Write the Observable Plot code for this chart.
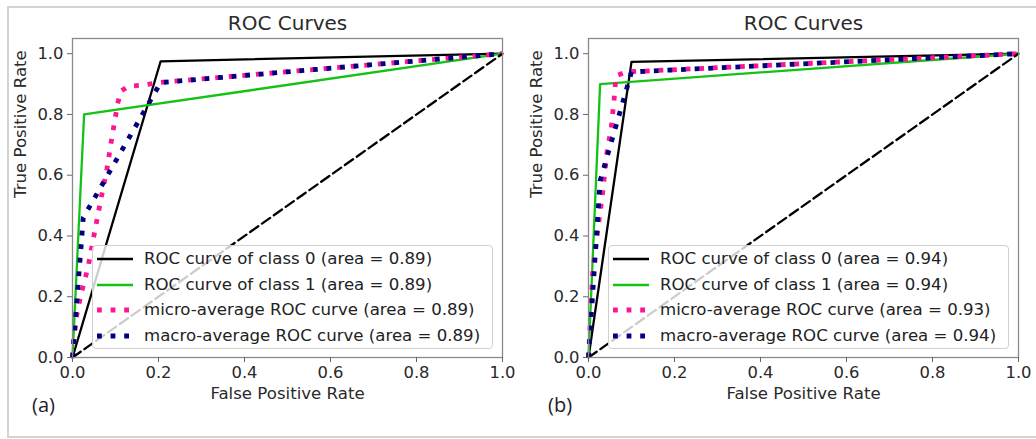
<!DOCTYPE html>
<html>
<head>
<meta charset="utf-8">
<script src="https://cdn.jsdelivr.net/npm/d3@7"></script>
<script src="https://cdn.jsdelivr.net/npm/@observablehq/plot@0.6"></script>
<style>
  html, body { margin: 0; padding: 0; background: #fff; }
  #root { position: relative; width: 1036px; height: 439px; overflow: hidden; font-family: "DejaVu Sans", sans-serif; }
  #border { position: absolute; left: 7px; top: 6px; width: 1060px; height: 432px; border: 2px solid #d4d4d4; border-right: none; box-sizing: border-box; }
  .panel { position: absolute; top: 0; }
  .legend { position: absolute; border: 1px solid #d0d0d0; border-radius: 4px; background: rgba(255,255,255,0.8); box-sizing: border-box; }
  .row { position: absolute; left: 0; height: 22px; }
  .row svg { position: absolute; left: 0; top: 0; }
  .row span { position: absolute; left: 51px; top: 0px; font-size: 16.6px; line-height: 22px; color: #222; white-space: nowrap; font-family: "DejaVu Sans", sans-serif; }
  .tag { position: absolute; font-family: "Open Sans", "Liberation Sans", sans-serif; font-size: 20px; color: #1e1e2a; }
</style>
</head>
<body>
<div id="root">
  <div id="border"></div>
</div>
<script>
// ---- data ----
const axisTicks = [0, 0.2, 0.4, 0.6, 0.8, 1.0];
const titleText = "ROC Curves";
const xLabel = "False Positive Rate";
const yLabel = "True Positive Rate";
const seriesNames = ["ROC curve of class 0", "ROC curve of class 1", "micro-average ROC curve", "macro-average ROC curve"];
const panelTags = ["(a)", "(b)"];

// panel (a)
const fprA0 = [0, 0.205, 1];
const tprA0 = [0, 0.975, 1];
const fprA1 = [0, 0.027, 1];
const tprA1 = [0, 0.8, 1];
const fprAMicro = [0, 0.008, 0.02, 0.036, 0.047, 0.064, 0.08, 0.09, 0.105, 0.113, 0.13, 0.16, 0.2, 1];
const tprAMicro = [0, 0.127, 0.21, 0.296, 0.38, 0.506, 0.62, 0.71, 0.836, 0.877, 0.893, 0.896, 0.905, 1];
const fprAMacro = [0, 0.025, 0.205, 1];
const tprAMacro = [0, 0.46, 0.905, 1];
const areasA = [0.89, 0.89, 0.89, 0.89];

// panel (b)
const fprB0 = [0, 0.1, 1];
const tprB0 = [0, 0.973, 1];
const fprB1 = [0, 0.027, 1];
const tprB1 = [0, 0.9, 1];
const fprBMicro = [0, 0.01, 0.022, 0.033, 0.043, 0.053, 0.059, 0.064, 0.088, 1];
const tprBMicro = [0, 0.285, 0.423, 0.544, 0.676, 0.758, 0.841, 0.927, 0.94, 1];
const fprBMacro = [0, 0.027, 0.1, 1];
const tprBMacro = [0, 0.581, 0.94, 1];
const areasB = [0.94, 0.94, 0.93, 0.94];

const diagX = [0, 1];
const diagY = [0, 1];

// ---- styles ----
const styles = [
  {stroke: "#000000", strokeWidth: 2.3},
  {stroke: "#14c214", strokeWidth: 2.3},
  {stroke: "#ff1493", strokeWidth: 4.8, strokeDasharray: "4.8,8.8"},
  {stroke: "#000080", strokeWidth: 4.8, strokeDasharray: "4.8,8.8"}
];

const pts = (xs, ys) => xs.map((x, i) => ({x, y: ys[i]}));

function makePanel(curves, areas, tag, left) {
  const W = 518, H = 439;
  const marks = [];
  curves.forEach((c, i) => {
    marks.push(Plot.line(pts(c[0], c[1]), {x: "x", y: "y", ...styles[i], strokeLinecap: "butt", strokeLinejoin: "round"}));
  });
  marks.push(Plot.line(pts(diagX, diagY), {x: "x", y: "y", stroke: "#000", strokeWidth: 2.3, strokeDasharray: "10,4.5"}));
  marks.push(Plot.frame({stroke: "#8a8a8a", strokeWidth: 1.3}));
  marks.push(Plot.axisX({ticks: axisTicks, tickFormat: d => d.toFixed(1), tickSize: 5, tickPadding: 4, stroke: "#666", color: "#2a2a2a", label: null, fontSize: 16.4}));
  marks.push(Plot.axisY({ticks: axisTicks, tickFormat: d => d.toFixed(1), tickSize: 5, tickPadding: 4, stroke: "#666", color: "#2a2a2a", label: null, fontSize: 16.4}));
  marks.push(Plot.text([titleText], {frameAnchor: "top", dy: -15, fontSize: 20, fill: "#2a2a2a", lineAnchor: "middle"}));
  marks.push(Plot.text([xLabel], {frameAnchor: "bottom", dy: 36, fontSize: 16.6, fill: "#2a2a2a", lineAnchor: "middle"}));
  marks.push(Plot.text([yLabel], {frameAnchor: "left", dx: -52, rotate: -90, fontSize: 16.6, fill: "#2a2a2a", lineAnchor: "middle"}));

  const svg = Plot.plot({
    width: W, height: H,
    marginLeft: 72, marginRight: 16, marginTop: 38, marginBottom: 82,
    x: {domain: [0, 1]},
    y: {domain: [0, 1.05]},
    style: {fontFamily: "DejaVu Sans, sans-serif", fontSize: "16px", background: "transparent", overflow: "visible"},
    marks
  });
  const wrap = document.createElement("div");
  wrap.className = "panel";
  wrap.style.left = left + "px";
  wrap.appendChild(svg);
  document.getElementById("root").appendChild(wrap);

  // legend (lower right)
  const lg = document.createElement("div");
  lg.className = "legend";
  lg.style.left = (left + 92) + "px";
  lg.style.top = "245px";
  lg.style.width = "401px";
  lg.style.height = "104px";
  const rowY = [2, 27.5, 53, 78.5];
  seriesNames.forEach((name, i) => {
    const r = document.createElement("div");
    r.className = "row";
    r.style.top = rowY[i] + "px";
    r.style.width = "400px";
    const st = styles[i];
    r.innerHTML = `<svg width="48" height="22"><line x1="4" y1="11" x2="40" y2="11" stroke="${st.stroke}" stroke-width="${st.strokeWidth}" ${st.strokeDasharray ? `stroke-dasharray="${st.strokeDasharray}"` : ""}/></svg><span>${name} (area = ${areas[i].toFixed(2)})</span>`;
    lg.appendChild(r);
  });
  document.getElementById("root").appendChild(lg);

  const t = document.createElement("div");
  t.className = "tag";
  t.style.left = (left + 32) + "px";
  t.style.top = "391px";
  t.textContent = tag;
  document.getElementById("root").appendChild(t);
}

makePanel([[fprA0, tprA0], [fprA1, tprA1], [fprAMicro, tprAMicro], [fprAMacro, tprAMacro]], areasA, panelTags[0], 0);
makePanel([[fprB0, tprB0], [fprB1, tprB1], [fprBMicro, tprBMicro], [fprBMacro, tprBMacro]], areasB, panelTags[1], 516);
</script>
</body>
</html>
